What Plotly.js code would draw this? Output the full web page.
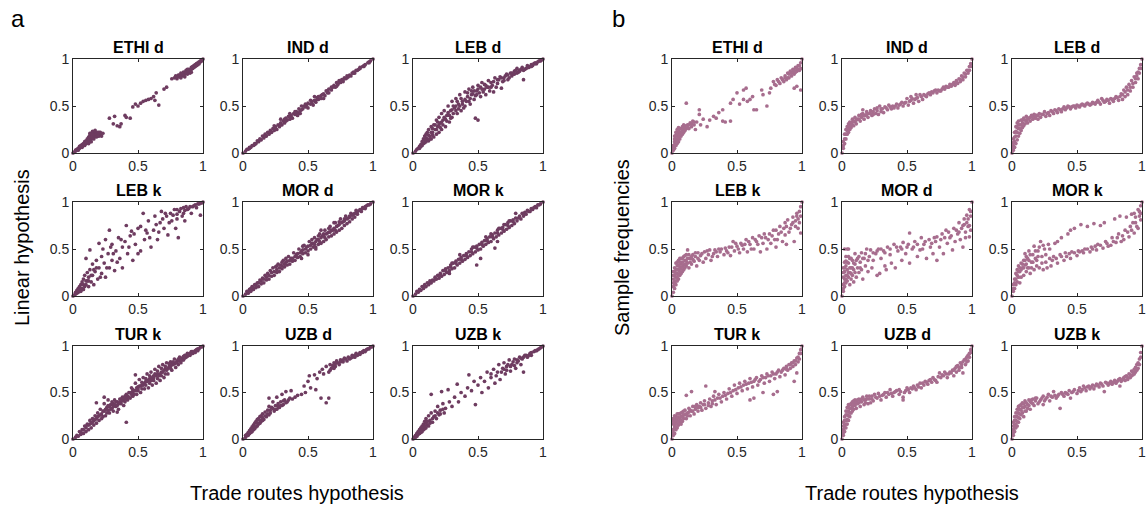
<!DOCTYPE html>
<html><head><meta charset="utf-8">
<script src="https://cdn.plot.ly/plotly-3.0.1.min.js"></script>
<style>html,body{margin:0;padding:0;background:#fff;}#chart{width:1146px;height:506px;}</style>
</head><body><div id="chart"></div>
<script>
const panelTitles = ["ETHI d","IND d","LEB d","LEB k","MOR d","MOR k","TUR k","UZB d","UZB k"];
const panelLetters = ["a","b"];
const xAxisTitle = "Trade routes hypothesis";
const yAxisTitles = ["Linear hypothesis","Sample frequencies"];
const tickValues = [0, 0.5, 1];
const tickLabels = ["0","0.5","1"];

// Panel a: Linear hypothesis vs Trade routes hypothesis, [x, y] pairs
const linEthiD = [[0,0],[0.01,0.01],[0.02,0.02],[0.03,0.03],[0.03,0.04],[0.04,0.05],[0.05,0.05],[0.05,0.07],[0.06,0.06],[0.06,0.08],[0.07,0.07],[0.07,0.09],[0.08,0.08],[0.08,0.10],[0.09,0.09],[0.09,0.12],[0.10,0.10],[0.10,0.13],[0.11,0.11],[0.11,0.15],[0.12,0.12],[0.12,0.17],[0.13,0.14],[0.13,0.19],[0.14,0.15],[0.14,0.21],[0.15,0.16],[0.15,0.23],[0.16,0.17],[0.16,0.20],[0.17,0.18],[0.17,0.22],[0.18,0.19],[0.18,0.21],[0.19,0.20],[0.20,0.18],[0.20,0.22],[0.21,0.20],[0.22,0.18],[0.23,0.21],[0.12,0.10],[0.14,0.12],[0.28,0.37],[0.31,0.31],[0.32,0.39],[0.34,0.29],[0.36,0.28],[0.37,0.31],[0.40,0.40],[0.41,0.38],[0.44,0.37],[0.46,0.49],[0.48,0.52],[0.50,0.50],[0.52,0.53],[0.54,0.55],[0.56,0.56],[0.58,0.57],[0.60,0.58],[0.62,0.60],[0.63,0.56],[0.64,0.64],[0.66,0.51],[0.70,0.68],[0.72,0.70],[0.76,0.79],[0.78,0.80],[0.79,0.82],[0.80,0.79],[0.81,0.83],[0.82,0.81],[0.83,0.85],[0.84,0.82],[0.85,0.86],[0.86,0.84],[0.87,0.88],[0.88,0.86],[0.89,0.89],[0.90,0.88],[0.91,0.91],[0.92,0.90],[0.93,0.93],[0.94,0.92],[0.95,0.95],[0.96,0.94],[0.97,0.97],[0.98,0.97],[0.99,0.99],[1,1],[0.86,0.81],[0.88,0.84],[0.90,0.85],
  [0.02,0.03],[0.04,0.03],[0.06,0.07],[0.07,0.06],[0.09,0.08],[0.10,0.11],[0.11,0.12],[0.12,0.14],[0.13,0.12],[0.14,0.17],[0.15,0.18],[0.16,0.15],[0.17,0.19],[0.18,0.17],[0.19,0.22],[0.20,0.20],[0.13,0.21],[0.15,0.20],[0.17,0.24],[0.19,0.18],[0.21,0.22],[0.80,0.81],[0.82,0.83],[0.84,0.84],[0.85,0.83],[0.87,0.85],[0.88,0.89],[0.89,0.87],[0.91,0.89],[0.92,0.92],[0.93,0.91],[0.94,0.94],[0.95,0.93],[0.96,0.96],[0.97,0.95],[0.98,0.98],[0.99,0.98],[0.83,0.80],[0.91,0.86]];
const linIndD = [[0,0],[0.02,0.02],[0.03,0.04],[0.04,0.04],[0.05,0.06],[0.06,0.06],[0.07,0.08],[0.08,0.08],[0.09,0.10],[0.10,0.10],[0.11,0.13],[0.12,0.12],[0.13,0.15],[0.14,0.14],[0.15,0.18],[0.16,0.16],[0.17,0.20],[0.18,0.18],[0.19,0.22],[0.20,0.20],[0.21,0.24],[0.22,0.22],[0.23,0.26],[0.24,0.24],[0.25,0.28],[0.26,0.25],[0.27,0.30],[0.28,0.28],[0.29,0.32],[0.30,0.30],[0.31,0.34],[0.32,0.32],[0.33,0.37],[0.34,0.35],[0.35,0.39],[0.36,0.36],[0.37,0.40],[0.38,0.37],[0.39,0.42],[0.40,0.41],[0.41,0.44],[0.42,0.43],[0.43,0.47],[0.44,0.45],[0.45,0.50],[0.46,0.47],[0.47,0.50],[0.48,0.49],[0.50,0.53],[0.50,0.48],[0.52,0.52],[0.53,0.55],[0.54,0.51],[0.55,0.56],[0.56,0.54],[0.57,0.59],[0.58,0.57],[0.60,0.61],[0.60,0.58],[0.62,0.63],[0.63,0.61],[0.64,0.66],[0.65,0.64],[0.66,0.68],[0.68,0.67],[0.68,0.70],[0.70,0.72],[0.71,0.70],[0.72,0.75],[0.73,0.73],[0.74,0.77],[0.75,0.75],[0.76,0.78],[0.77,0.76],[0.78,0.80],[0.80,0.80],[0.80,0.82],[0.82,0.83],[0.83,0.82],[0.84,0.85],[0.85,0.86],[0.86,0.85],[0.87,0.88],[0.88,0.88],[0.90,0.90],[0.90,0.91],[0.92,0.92],[0.93,0.93],[0.94,0.94],[0.96,0.96],[0.97,0.97],[0.98,0.98],[1,1],[0.29,0.36],[0.36,0.42],[0.44,0.42],[0.55,0.60],[0.62,0.58],
  [0.05,0.05],[0.09,0.09],[0.13,0.14],[0.17,0.18],[0.21,0.22],[0.25,0.26],[0.29,0.30],[0.33,0.34],[0.37,0.38],[0.41,0.42],[0.45,0.46],[0.49,0.51],[0.53,0.53],[0.57,0.57],[0.61,0.62],[0.65,0.66],[0.69,0.70],[0.73,0.74],[0.77,0.78],[0.81,0.81],[0.85,0.85],[0.89,0.89],[0.93,0.92],[0.97,0.96],[0.24,0.29],[0.32,0.36],[0.40,0.44],[0.48,0.52],[0.52,0.56],[0.58,0.60],[0.42,0.40],[0.66,0.64],[0.72,0.71],[0.79,0.79]];
const linLebD = [[0,0],[0.02,0.02],[0.03,0.04],[0.04,0.05],[0.05,0.07],[0.05,0.05],[0.06,0.09],[0.07,0.08],[0.07,0.12],[0.08,0.10],[0.08,0.15],[0.09,0.11],[0.09,0.18],[0.10,0.12],[0.10,0.20],[0.11,0.15],[0.11,0.22],[0.12,0.13],[0.12,0.25],[0.13,0.18],[0.14,0.28],[0.14,0.15],[0.15,0.22],[0.16,0.30],[0.16,0.17],[0.17,0.25],[0.18,0.35],[0.18,0.20],[0.19,0.28],[0.20,0.38],[0.20,0.22],[0.21,0.32],[0.22,0.42],[0.22,0.25],[0.23,0.35],[0.24,0.45],[0.25,0.28],[0.26,0.40],[0.27,0.50],[0.28,0.33],[0.29,0.45],[0.30,0.55],[0.30,0.38],[0.32,0.48],[0.33,0.58],[0.34,0.42],[0.35,0.52],[0.36,0.62],[0.37,0.45],[0.38,0.55],[0.40,0.65],[0.40,0.50],[0.42,0.60],[0.43,0.68],[0.44,0.52],[0.45,0.62],[0.46,0.70],[0.47,0.57],[0.48,0.37],[0.49,0.66],[0.50,0.72],[0.50,0.35],[0.52,0.60],[0.53,0.75],[0.55,0.68],[0.56,0.62],[0.58,0.77],[0.60,0.70],[0.62,0.65],[0.63,0.80],[0.65,0.74],[0.67,0.81],[0.68,0.69],[0.70,0.80],[0.72,0.84],[0.73,0.78],[0.75,0.85],[0.76,0.82],[0.78,0.87],[0.80,0.85],[0.80,0.90],[0.82,0.88],[0.84,0.91],[0.85,0.78],[0.86,0.89],[0.88,0.93],[0.89,0.91],[0.91,0.94],[0.92,0.93],[0.94,0.96],[0.95,0.95],[0.97,0.98],[0.98,0.98],[1,1],
  [0.10,0.16],[0.12,0.19],[0.14,0.22],[0.15,0.26],[0.17,0.30],[0.19,0.33],[0.21,0.27],[0.23,0.30],[0.24,0.38],[0.26,0.34],[0.27,0.43],[0.29,0.37],[0.31,0.50],[0.31,0.42],[0.33,0.45],[0.34,0.55],[0.36,0.50],[0.37,0.58],[0.39,0.48],[0.41,0.55],[0.42,0.64],[0.44,0.58],[0.46,0.63],[0.47,0.66],[0.48,0.61],[0.51,0.64],[0.52,0.70],[0.54,0.65],[0.55,0.73],[0.57,0.70],[0.59,0.66],[0.60,0.75],[0.61,0.72],[0.64,0.70],[0.66,0.78],[0.69,0.76],[0.71,0.82],[0.74,0.80],[0.77,0.84],[0.79,0.88],[0.81,0.86],[0.83,0.89],[0.87,0.90],[0.90,0.92],[0.93,0.95],[0.96,0.97],[0.99,0.99],[0.06,0.07],[0.09,0.14],[0.13,0.15],
  [0.15,0.19],[0.18,0.25],[0.20,0.30],[0.22,0.33],[0.25,0.36],[0.28,0.40],[0.30,0.46],[0.33,0.50],[0.35,0.47],[0.38,0.52],[0.40,0.57],[0.43,0.55],[0.45,0.66],[0.49,0.62],[0.50,0.68],[0.53,0.68],[0.56,0.72],[0.58,0.70],[0.62,0.76],[0.65,0.78],[0.68,0.80],[0.70,0.77],[0.73,0.83],[0.76,0.85],[0.78,0.84],[0.82,0.87],[0.85,0.88],[0.88,0.91],[0.91,0.92],[0.94,0.95]];
const linLebK = [[0,0],[0.01,0.01],[0.02,0.02],[0.02,0.04],[0.03,0.03],[0.03,0.06],[0.04,0.04],[0.04,0.08],[0.05,0.05],[0.05,0.10],[0.06,0.05],[0.06,0.12],[0.07,0.08],[0.07,0.15],[0.08,0.07],[0.08,0.18],[0.09,0.10],[0.09,0.22],[0.10,0.12],[0.10,0.40],[0.11,0.16],[0.11,0.25],[0.12,0.10],[0.12,0.20],[0.13,0.49],[0.13,0.28],[0.14,0.15],[0.15,0.22],[0.15,0.34],[0.16,0.12],[0.17,0.26],[0.18,0.38],[0.19,0.18],[0.20,0.30],[0.20,0.56],[0.22,0.24],[0.22,0.42],[0.24,0.35],[0.25,0.20],[0.25,0.60],[0.27,0.45],[0.28,0.70],[0.28,0.30],[0.30,0.38],[0.30,0.55],[0.32,0.27],[0.33,0.48],[0.35,0.62],[0.36,0.40],[0.38,0.52],[0.38,0.30],[0.40,0.58],[0.41,0.75],[0.42,0.45],[0.44,0.64],[0.45,0.69],[0.46,0.38],[0.48,0.55],[0.50,0.72],[0.52,0.74],[0.52,0.48],[0.54,0.88],[0.55,0.60],[0.57,0.67],[0.58,0.80],[0.60,0.52],[0.62,0.70],[0.63,0.85],[0.65,0.60],[0.67,0.78],[0.68,0.90],[0.70,0.72],[0.72,0.85],[0.73,0.65],[0.75,0.88],[0.76,0.80],[0.78,0.92],[0.79,0.72],[0.80,0.87],[0.81,0.62],[0.82,0.90],[0.84,0.85],[0.85,0.94],[0.86,0.80],[0.88,0.92],[0.90,0.95],[0.91,0.88],[0.93,0.96],[0.95,0.94],[0.96,0.98],[0.98,0.86],[0.98,0.99],[1,1],
  [0.02,0.03],[0.04,0.06],[0.06,0.08],[0.08,0.12],[0.10,0.16],[0.12,0.16],[0.14,0.22],[0.16,0.28],[0.18,0.30],[0.21,0.20],[0.23,0.50],[0.26,0.30],[0.29,0.52],[0.31,0.45],[0.34,0.36],[0.37,0.60],[0.43,0.52],[0.47,0.66],[0.50,0.45],[0.56,0.70],[0.59,0.62],[0.64,0.76],[0.66,0.68],[0.69,0.82],[0.71,0.88],[0.74,0.78],[0.77,0.86],[0.80,0.92],[0.83,0.93],[0.86,0.91],[0.87,0.95],[0.89,0.93],[0.92,0.95],[0.94,0.97],[0.97,0.98],[0.99,0.99],[0.85,0.88],[0.80,0.82]];
const linMorD = [[0,0],[0.02,0.02],[0.03,0.05],[0.04,0.03],[0.05,0.07],[0.06,0.05],[0.07,0.10],[0.08,0.07],[0.09,0.12],[0.10,0.09],[0.11,0.14],[0.12,0.10],[0.13,0.17],[0.14,0.13],[0.15,0.19],[0.16,0.14],[0.17,0.22],[0.18,0.17],[0.19,0.24],[0.20,0.18],[0.21,0.27],[0.22,0.21],[0.23,0.30],[0.24,0.22],[0.25,0.31],[0.26,0.25],[0.27,0.34],[0.28,0.26],[0.29,0.33],[0.30,0.29],[0.31,0.38],[0.32,0.31],[0.33,0.36],[0.34,0.33],[0.35,0.42],[0.36,0.34],[0.37,0.40],[0.38,0.37],[0.39,0.46],[0.40,0.38],[0.41,0.44],[0.42,0.41],[0.43,0.50],[0.44,0.42],[0.45,0.48],[0.46,0.45],[0.47,0.54],[0.48,0.46],[0.49,0.52],[0.50,0.48],[0.51,0.58],[0.52,0.50],[0.53,0.56],[0.54,0.52],[0.55,0.62],[0.56,0.52],[0.57,0.60],[0.58,0.55],[0.59,0.66],[0.60,0.56],[0.61,0.64],[0.62,0.58],[0.63,0.70],[0.64,0.60],[0.65,0.67],[0.66,0.63],[0.67,0.74],[0.68,0.64],[0.69,0.70],[0.70,0.66],[0.71,0.78],[0.72,0.68],[0.73,0.75],[0.74,0.70],[0.75,0.82],[0.76,0.72],[0.77,0.79],[0.78,0.75],[0.79,0.85],[0.80,0.77],[0.81,0.83],[0.82,0.79],[0.83,0.88],[0.84,0.82],[0.85,0.87],[0.86,0.84],[0.87,0.91],[0.88,0.87],[0.90,0.92],[0.91,0.90],[0.92,0.94],[0.94,0.93],[0.95,0.96],[0.97,0.97],[0.98,0.98],[1,1],[0.45,0.40],[0.60,0.70],[0.30,0.36],[0.70,0.78],
  [0.04,0.05],[0.08,0.09],[0.12,0.14],[0.16,0.18],[0.20,0.22],[0.24,0.26],[0.28,0.30],[0.32,0.34],[0.36,0.38],[0.40,0.42],[0.44,0.46],[0.48,0.50],[0.52,0.54],[0.56,0.58],[0.60,0.62],[0.64,0.66],[0.68,0.70],[0.72,0.74],[0.76,0.78],[0.80,0.82],[0.84,0.86],[0.88,0.90],[0.92,0.93],[0.96,0.97],[0.26,0.32],[0.33,0.40],[0.46,0.53],[0.53,0.60],[0.58,0.64],[0.62,0.66],[0.66,0.72],[0.74,0.79],[0.78,0.82],[0.82,0.84],[0.50,0.44],[0.56,0.50],
  [0.06,0.08],[0.10,0.12],[0.14,0.16],[0.18,0.20],[0.22,0.25],[0.26,0.28],[0.30,0.32],[0.34,0.37],[0.38,0.40],[0.42,0.45],[0.46,0.49],[0.50,0.53],[0.54,0.56],[0.58,0.60],[0.62,0.64],[0.66,0.68],[0.70,0.72],[0.74,0.76],[0.78,0.80],[0.82,0.85],[0.86,0.88],[0.90,0.91],[0.94,0.95],[0.55,0.55],[0.63,0.62],[0.71,0.70],[0.67,0.68],[0.59,0.58]];
const linMorK = [[0,0],[0.02,0.02],[0.03,0.05],[0.04,0.04],[0.05,0.07],[0.06,0.06],[0.07,0.10],[0.08,0.08],[0.09,0.12],[0.10,0.10],[0.11,0.14],[0.12,0.12],[0.13,0.16],[0.14,0.14],[0.15,0.17],[0.16,0.16],[0.17,0.20],[0.18,0.18],[0.19,0.22],[0.20,0.19],[0.21,0.24],[0.22,0.21],[0.23,0.27],[0.24,0.23],[0.25,0.29],[0.26,0.25],[0.27,0.30],[0.28,0.27],[0.29,0.33],[0.30,0.29],[0.31,0.35],[0.32,0.30],[0.33,0.37],[0.34,0.33],[0.35,0.39],[0.36,0.35],[0.37,0.41],[0.38,0.37],[0.39,0.43],[0.40,0.39],[0.41,0.45],[0.42,0.41],[0.43,0.47],[0.44,0.43],[0.45,0.50],[0.46,0.45],[0.47,0.52],[0.48,0.47],[0.49,0.53],[0.50,0.49],[0.51,0.55],[0.52,0.50],[0.53,0.57],[0.54,0.53],[0.55,0.59],[0.56,0.55],[0.57,0.61],[0.58,0.57],[0.59,0.63],[0.60,0.58],[0.61,0.65],[0.62,0.61],[0.63,0.67],[0.64,0.63],[0.65,0.70],[0.66,0.65],[0.67,0.72],[0.68,0.67],[0.69,0.73],[0.70,0.69],[0.71,0.76],[0.72,0.71],[0.73,0.78],[0.74,0.73],[0.75,0.80],[0.76,0.75],[0.77,0.81],[0.78,0.77],[0.79,0.83],[0.80,0.80],[0.82,0.85],[0.83,0.82],[0.84,0.88],[0.85,0.85],[0.86,0.89],[0.87,0.87],[0.88,0.91],[0.90,0.90],[0.91,0.93],[0.92,0.92],[0.94,0.95],[0.95,0.94],[0.96,0.97],[0.98,0.98],[1,1],[0.49,0.33],[0.52,0.40],[0.63,0.51],[0.65,0.58],[0.36,0.44],[0.56,0.63],[0.79,0.88],[0.28,0.24],
  [0.05,0.06],[0.09,0.10],[0.13,0.14],[0.17,0.18],[0.21,0.22],[0.25,0.27],[0.29,0.31],[0.33,0.35],[0.37,0.39],[0.41,0.43],[0.45,0.47],[0.49,0.51],[0.53,0.55],[0.57,0.59],[0.61,0.63],[0.65,0.67],[0.69,0.71],[0.73,0.75],[0.77,0.79],[0.81,0.83],[0.85,0.87],[0.89,0.90],[0.93,0.94],[0.97,0.97],[0.60,0.66],[0.70,0.76],[0.74,0.80],[0.46,0.52],[0.30,0.35],[0.66,0.72]];
const linTurK = [[0,0],[0.02,0.02],[0.03,0.04],[0.04,0.03],[0.05,0.08],[0.06,0.05],[0.07,0.10],[0.08,0.06],[0.09,0.14],[0.10,0.08],[0.11,0.16],[0.12,0.10],[0.13,0.20],[0.14,0.12],[0.15,0.22],[0.16,0.15],[0.17,0.25],[0.18,0.17],[0.19,0.28],[0.20,0.20],[0.21,0.32],[0.22,0.22],[0.23,0.30],[0.24,0.38],[0.25,0.25],[0.26,0.34],[0.27,0.42],[0.28,0.28],[0.29,0.37],[0.30,0.40],[0.31,0.30],[0.32,0.42],[0.33,0.35],[0.34,0.40],[0.35,0.32],[0.36,0.43],[0.37,0.38],[0.38,0.45],[0.39,0.36],[0.40,0.40],[0.41,0.48],[0.42,0.42],[0.43,0.50],[0.44,0.44],[0.45,0.55],[0.46,0.46],[0.47,0.52],[0.48,0.60],[0.49,0.48],[0.50,0.56],[0.51,0.64],[0.52,0.50],[0.53,0.58],[0.54,0.66],[0.55,0.54],[0.56,0.62],[0.57,0.70],[0.58,0.55],[0.59,0.65],[0.60,0.72],[0.61,0.58],[0.62,0.68],[0.63,0.75],[0.64,0.60],[0.65,0.70],[0.66,0.78],[0.67,0.63],[0.68,0.72],[0.69,0.80],[0.70,0.66],[0.71,0.75],[0.72,0.82],[0.73,0.70],[0.74,0.78],[0.75,0.83],[0.76,0.74],[0.77,0.80],[0.78,0.86],[0.79,0.77],[0.80,0.84],[0.81,0.80],[0.82,0.88],[0.83,0.82],[0.84,0.87],[0.85,0.85],[0.86,0.90],[0.87,0.88],[0.88,0.92],[0.90,0.90],[0.91,0.94],[0.92,0.92],[0.94,0.95],[0.95,0.96],[0.97,0.97],[0.98,0.99],[1,1],[0.24,0.45],[0.18,0.39],[0.48,0.69],[0.41,0.18],[0.34,0.29],
  [0.06,0.07],[0.08,0.10],[0.10,0.12],[0.12,0.15],[0.14,0.17],[0.16,0.20],[0.18,0.22],[0.20,0.25],[0.22,0.27],[0.23,0.24],[0.25,0.32],[0.27,0.31],[0.28,0.35],[0.30,0.33],[0.31,0.38],[0.33,0.40],[0.35,0.38],[0.37,0.43],[0.39,0.42],[0.40,0.46],[0.42,0.46],[0.44,0.50],[0.46,0.51],[0.47,0.48],[0.49,0.55],[0.50,0.52],[0.52,0.57],[0.53,0.54],[0.55,0.60],[0.56,0.58],[0.58,0.63],[0.59,0.60],[0.61,0.66],[0.62,0.63],[0.64,0.68],[0.65,0.65],[0.67,0.70],[0.68,0.68],[0.70,0.74],[0.71,0.70],[0.73,0.76],[0.75,0.78],[0.76,0.80],[0.78,0.81],[0.80,0.82],[0.82,0.84],[0.84,0.85],[0.86,0.87],[0.88,0.89],[0.90,0.92],[0.93,0.93],[0.96,0.97],[0.99,0.99],
  [0.10,0.14],[0.13,0.16],[0.15,0.18],[0.17,0.21],[0.19,0.24],[0.21,0.26],[0.24,0.30],[0.26,0.28],[0.27,0.36],[0.29,0.32],[0.31,0.35],[0.32,0.37],[0.34,0.36],[0.36,0.40],[0.38,0.41],[0.40,0.43],[0.41,0.44],[0.43,0.45],[0.45,0.48],[0.46,0.53],[0.48,0.52],[0.50,0.54],[0.51,0.57],[0.53,0.61],[0.54,0.58],[0.56,0.65],[0.57,0.62],[0.59,0.68],[0.60,0.63],[0.62,0.66],[0.63,0.70],[0.65,0.73],[0.66,0.68],[0.68,0.76],[0.69,0.72],[0.71,0.78],[0.72,0.74],[0.74,0.81],[0.75,0.76],[0.77,0.83],[0.79,0.82],[0.81,0.86],[0.83,0.85],[0.85,0.89],[0.87,0.90],[0.89,0.91],[0.92,0.94],[0.94,0.93],[0.96,0.95]];
const linUzbD = [[0,0],[0.02,0.02],[0.02,0.04],[0.03,0.05],[0.04,0.04],[0.04,0.07],[0.05,0.06],[0.05,0.09],[0.06,0.07],[0.06,0.11],[0.07,0.08],[0.07,0.13],[0.08,0.10],[0.08,0.15],[0.09,0.11],[0.09,0.17],[0.10,0.13],[0.10,0.19],[0.11,0.14],[0.11,0.21],[0.12,0.16],[0.12,0.22],[0.13,0.17],[0.13,0.24],[0.14,0.19],[0.14,0.25],[0.15,0.20],[0.15,0.27],[0.16,0.21],[0.17,0.29],[0.18,0.24],[0.19,0.31],[0.20,0.26],[0.20,0.35],[0.21,0.28],[0.22,0.34],[0.23,0.40],[0.24,0.30],[0.25,0.36],[0.26,0.32],[0.27,0.38],[0.28,0.34],[0.29,0.40],[0.30,0.36],[0.31,0.37],[0.32,0.42],[0.33,0.51],[0.34,0.40],[0.36,0.44],[0.37,0.52],[0.38,0.43],[0.40,0.45],[0.42,0.47],[0.45,0.48],[0.47,0.57],[0.48,0.50],[0.50,0.62],[0.51,0.68],[0.52,0.55],[0.55,0.69],[0.56,0.53],[0.57,0.65],[0.59,0.72],[0.60,0.44],[0.61,0.75],[0.62,0.70],[0.64,0.39],[0.64,0.78],[0.66,0.44],[0.66,0.72],[0.67,0.80],[0.68,0.76],[0.70,0.82],[0.71,0.78],[0.72,0.84],[0.74,0.80],[0.75,0.85],[0.77,0.83],[0.78,0.87],[0.80,0.84],[0.81,0.88],[0.83,0.87],[0.84,0.90],[0.86,0.88],[0.87,0.92],[0.89,0.91],[0.90,0.93],[0.92,0.93],[0.93,0.95],[0.95,0.96],[0.97,0.97],[0.98,0.99],[1,1],[0.20,0.44],[0.26,0.45],[0.30,0.48],
  [0.03,0.04],[0.05,0.07],[0.07,0.10],[0.09,0.13],[0.11,0.17],[0.13,0.20],[0.15,0.23],[0.17,0.25],[0.19,0.27],[0.21,0.31],[0.23,0.33],[0.25,0.32],[0.27,0.35],[0.29,0.36],[0.31,0.41],[0.33,0.39],[0.35,0.42],[0.69,0.79],[0.71,0.81],[0.73,0.82],[0.75,0.83],[0.77,0.85],[0.79,0.86],[0.82,0.86],[0.84,0.88],[0.86,0.90],[0.88,0.90],[0.90,0.91],[0.92,0.94],[0.94,0.94],[0.96,0.97],[0.99,0.99],[0.67,0.74],[0.70,0.76]];
const linUzbK = [[0,0],[0.01,0.02],[0.02,0.02],[0.02,0.04],[0.03,0.03],[0.03,0.06],[0.04,0.05],[0.04,0.08],[0.05,0.06],[0.05,0.10],[0.06,0.07],[0.06,0.12],[0.07,0.08],[0.07,0.14],[0.08,0.10],[0.08,0.16],[0.09,0.11],[0.09,0.19],[0.10,0.12],[0.10,0.22],[0.11,0.15],[0.12,0.25],[0.12,0.14],[0.13,0.20],[0.14,0.28],[0.14,0.48],[0.15,0.18],[0.16,0.24],[0.17,0.30],[0.18,0.22],[0.19,0.35],[0.20,0.26],[0.21,0.31],[0.22,0.51],[0.23,0.38],[0.24,0.28],[0.25,0.33],[0.27,0.53],[0.28,0.40],[0.30,0.35],[0.32,0.45],[0.34,0.59],[0.35,0.40],[0.37,0.50],[0.40,0.46],[0.42,0.55],[0.43,0.69],[0.45,0.52],[0.47,0.62],[0.48,0.37],[0.50,0.58],[0.52,0.66],[0.53,0.50],[0.55,0.62],[0.57,0.72],[0.58,0.55],[0.60,0.66],[0.62,0.75],[0.63,0.60],[0.65,0.72],[0.66,0.80],[0.67,0.64],[0.69,0.76],[0.70,0.82],[0.71,0.70],[0.72,0.78],[0.74,0.85],[0.75,0.73],[0.76,0.80],[0.78,0.86],[0.79,0.76],[0.80,0.82],[0.82,0.88],[0.83,0.80],[0.84,0.86],[0.85,0.72],[0.86,0.90],[0.88,0.88],[0.90,0.92],[0.91,0.90],[0.93,0.94],[0.95,0.95],[0.97,0.97],[0.98,0.98],[1,1],
  [0.02,0.03],[0.03,0.05],[0.04,0.06],[0.05,0.08],[0.06,0.09],[0.07,0.11],[0.08,0.13],[0.09,0.14],[0.10,0.17],[0.11,0.19],[0.13,0.17],[0.15,0.22],[0.17,0.25],[0.19,0.28],[0.21,0.27],[0.23,0.32],[0.68,0.72],[0.70,0.75],[0.72,0.74],[0.73,0.80],[0.75,0.78],[0.77,0.83],[0.78,0.79],[0.80,0.85],[0.81,0.84],[0.83,0.87],[0.85,0.88],[0.87,0.90],[0.89,0.90],[0.91,0.93],[0.94,0.95],[0.96,0.96],[0.99,0.99],[0.60,0.70],[0.64,0.68]];

// Panel b: Sample frequencies vs Trade routes hypothesis, [x, y] pairs
const sampEthiD = [[0,0],[0.01,0.03],[0.01,0.08],[0.02,0.05],[0.02,0.12],[0.02,0.18],[0.03,0.08],[0.03,0.15],[0.03,0.22],[0.04,0.10],[0.04,0.18],[0.04,0.25],[0.05,0.12],[0.05,0.20],[0.05,0.27],[0.06,0.15],[0.06,0.22],[0.07,0.18],[0.07,0.26],[0.08,0.20],[0.08,0.28],[0.09,0.22],[0.09,0.30],[0.10,0.24],[0.10,0.29],[0.11,0.26],[0.11,0.53],[0.12,0.30],[0.13,0.26],[0.14,0.32],[0.15,0.28],[0.16,0.34],[0.17,0.30],[0.18,0.25],[0.19,0.33],[0.21,0.46],[0.21,0.41],[0.22,0.30],[0.24,0.36],[0.27,0.28],[0.29,0.35],[0.32,0.39],[0.34,0.37],[0.36,0.43],[0.39,0.46],[0.39,0.34],[0.41,0.33],[0.45,0.53],[0.45,0.34],[0.47,0.57],[0.50,0.64],[0.52,0.52],[0.55,0.67],[0.55,0.57],[0.57,0.69],[0.58,0.55],[0.60,0.57],[0.62,0.60],[0.63,0.46],[0.65,0.46],[0.69,0.67],[0.70,0.62],[0.73,0.50],[0.75,0.64],[0.76,0.69],[0.78,0.76],[0.80,0.72],[0.81,0.78],[0.83,0.74],[0.84,0.80],[0.86,0.76],[0.87,0.82],[0.88,0.78],[0.89,0.85],[0.90,0.80],[0.91,0.87],[0.92,0.82],[0.93,0.89],[0.94,0.69],[0.94,0.84],[0.95,0.91],[0.96,0.71],[0.96,0.87],[0.97,0.93],[0.98,0.88],[0.99,0.67],[0.99,0.96],[1,1],
  [0.01,0.05],[0.02,0.09],[0.02,0.15],[0.03,0.11],[0.03,0.19],[0.04,0.14],[0.04,0.22],[0.05,0.16],[0.05,0.24],[0.06,0.19],[0.06,0.26],[0.07,0.22],[0.08,0.24],[0.09,0.26],[0.10,0.27],[0.12,0.27],[0.13,0.30],[0.15,0.31],[0.17,0.33],[0.85,0.78],[0.87,0.80],[0.89,0.80],[0.90,0.84],[0.92,0.85],[0.93,0.86],[0.94,0.88],[0.95,0.86],[0.96,0.90],[0.97,0.89],[0.98,0.93],[0.99,0.90],[0.82,0.76],[0.79,0.73]];
const sampIndD = [[0,0],[0.01,0.05],[0.01,0.12],[0.02,0.10],[0.02,0.20],[0.03,0.15],[0.03,0.25],[0.04,0.20],[0.04,0.28],[0.05,0.22],[0.05,0.31],[0.06,0.25],[0.06,0.33],[0.07,0.27],[0.08,0.30],[0.08,0.36],[0.09,0.29],[0.10,0.33],[0.10,0.38],[0.11,0.31],[0.12,0.36],[0.13,0.40],[0.14,0.34],[0.15,0.38],[0.16,0.42],[0.17,0.36],[0.18,0.40],[0.19,0.44],[0.20,0.38],[0.21,0.42],[0.22,0.45],[0.23,0.40],[0.24,0.44],[0.25,0.47],[0.26,0.42],[0.27,0.45],[0.28,0.41],[0.29,0.50],[0.30,0.44],[0.31,0.47],[0.32,0.43],[0.33,0.49],[0.35,0.46],[0.36,0.51],[0.38,0.47],[0.39,0.50],[0.40,0.48],[0.42,0.52],[0.43,0.48],[0.44,0.51],[0.46,0.54],[0.47,0.50],[0.48,0.53],[0.50,0.58],[0.51,0.51],[0.52,0.55],[0.54,0.58],[0.55,0.53],[0.56,0.57],[0.58,0.59],[0.59,0.55],[0.60,0.62],[0.62,0.57],[0.63,0.62],[0.65,0.60],[0.66,0.63],[0.68,0.62],[0.69,0.65],[0.70,0.64],[0.72,0.67],[0.73,0.64],[0.74,0.67],[0.76,0.66],[0.78,0.70],[0.79,0.68],[0.80,0.71],[0.82,0.70],[0.83,0.73],[0.84,0.71],[0.86,0.75],[0.87,0.72],[0.88,0.77],[0.89,0.74],[0.90,0.79],[0.91,0.76],[0.92,0.82],[0.93,0.78],[0.94,0.85],[0.95,0.81],[0.96,0.88],[0.97,0.85],[0.98,0.92],[0.99,0.95],[1,1],[0.16,0.46],[0.57,0.62],[0.53,0.60],
  [0.01,0.08],[0.02,0.15],[0.03,0.20],[0.04,0.24],[0.05,0.27],[0.06,0.29],[0.07,0.31],[0.08,0.33],[0.09,0.34],[0.11,0.35],[0.13,0.36],[0.15,0.41],[0.17,0.40],[0.19,0.41],[0.22,0.42],[0.24,0.41],[0.27,0.48],[0.30,0.47],[0.34,0.48],[0.37,0.49],[0.41,0.50],[0.45,0.52],[0.49,0.54],[0.53,0.56],[0.57,0.58],[0.61,0.60],[0.64,0.61],[0.67,0.64],[0.71,0.66],[0.75,0.66],[0.77,0.68],[0.81,0.70],[0.85,0.73],[0.88,0.75],[0.91,0.78],[0.93,0.81],[0.95,0.84],[0.97,0.88],[0.98,0.88],[0.99,0.92]];
const sampLebD = [[0,0],[0.01,0.03],[0.01,0.08],[0.01,0.15],[0.02,0.06],[0.02,0.12],[0.02,0.22],[0.03,0.10],[0.03,0.18],[0.03,0.28],[0.04,0.14],[0.04,0.22],[0.04,0.32],[0.05,0.18],[0.05,0.26],[0.05,0.34],[0.06,0.21],[0.06,0.30],[0.07,0.24],[0.07,0.35],[0.08,0.27],[0.08,0.32],[0.09,0.29],[0.09,0.37],[0.10,0.31],[0.11,0.34],[0.11,0.39],[0.12,0.32],[0.13,0.37],[0.14,0.34],[0.15,0.40],[0.16,0.36],[0.17,0.41],[0.18,0.37],[0.19,0.40],[0.20,0.36],[0.21,0.42],[0.22,0.38],[0.24,0.41],[0.25,0.44],[0.26,0.39],[0.28,0.43],[0.29,0.40],[0.30,0.45],[0.32,0.42],[0.33,0.46],[0.35,0.43],[0.36,0.47],[0.38,0.44],[0.40,0.49],[0.41,0.46],[0.43,0.50],[0.45,0.47],[0.47,0.50],[0.49,0.48],[0.50,0.51],[0.52,0.49],[0.54,0.52],[0.56,0.50],[0.58,0.53],[0.60,0.51],[0.62,0.54],[0.64,0.52],[0.66,0.56],[0.68,0.52],[0.69,0.58],[0.71,0.54],[0.73,0.57],[0.75,0.53],[0.76,0.58],[0.78,0.55],[0.80,0.60],[0.82,0.56],[0.84,0.63],[0.85,0.57],[0.86,0.67],[0.87,0.60],[0.88,0.70],[0.89,0.62],[0.90,0.73],[0.91,0.66],[0.92,0.77],[0.93,0.70],[0.94,0.81],[0.95,0.75],[0.96,0.85],[0.97,0.79],[0.98,0.90],[0.99,0.94],[1,1],
  [0.01,0.05],[0.01,0.11],[0.02,0.17],[0.03,0.23],[0.04,0.27],[0.05,0.30],[0.06,0.26],[0.07,0.30],[0.08,0.35],[0.10,0.35],[0.12,0.36],[0.14,0.38],[0.16,0.39],[0.18,0.40],[0.20,0.40],[0.23,0.41],[0.27,0.42],[0.31,0.44],[0.34,0.45],[0.37,0.46],[0.39,0.47],[0.42,0.48],[0.44,0.49],[0.46,0.49],[0.48,0.50],[0.51,0.50],[0.53,0.51],[0.55,0.51],[0.57,0.52],[0.59,0.52],[0.61,0.52],[0.63,0.53],[0.65,0.54],[0.67,0.54],[0.70,0.56],[0.72,0.55],[0.74,0.56],[0.77,0.57],[0.79,0.58],[0.81,0.59],[0.83,0.60],[0.85,0.62],[0.87,0.65],[0.89,0.67],[0.91,0.70],[0.93,0.74],[0.95,0.79],[0.96,0.82],[0.97,0.86],[0.98,0.85],[0.99,0.90]];
const sampLebK = [[0,0],[0.01,0.04],[0.01,0.10],[0.01,0.18],[0.01,0.26],[0.02,0.08],[0.02,0.15],[0.02,0.22],[0.02,0.30],[0.03,0.12],[0.03,0.20],[0.03,0.28],[0.03,0.35],[0.04,0.16],[0.04,0.24],[0.04,0.32],[0.05,0.18],[0.05,0.28],[0.05,0.38],[0.06,0.22],[0.06,0.31],[0.06,0.40],[0.07,0.24],[0.07,0.34],[0.08,0.26],[0.08,0.36],[0.09,0.28],[0.09,0.42],[0.10,0.30],[0.10,0.38],[0.11,0.32],[0.11,0.44],[0.12,0.35],[0.12,0.49],[0.13,0.30],[0.14,0.40],[0.15,0.34],[0.16,0.44],[0.17,0.37],[0.18,0.42],[0.19,0.32],[0.20,0.46],[0.21,0.38],[0.22,0.43],[0.24,0.36],[0.25,0.47],[0.26,0.40],[0.28,0.44],[0.29,0.49],[0.30,0.38],[0.32,0.45],[0.33,0.49],[0.35,0.42],[0.37,0.47],[0.38,0.50],[0.40,0.44],[0.42,0.48],[0.44,0.52],[0.45,0.43],[0.47,0.58],[0.48,0.48],[0.50,0.53],[0.52,0.46],[0.53,0.56],[0.55,0.50],[0.57,0.60],[0.58,0.47],[0.60,0.55],[0.62,0.62],[0.63,0.50],[0.65,0.58],[0.67,0.64],[0.68,0.47],[0.70,0.56],[0.72,0.62],[0.73,0.50],[0.75,0.66],[0.76,0.56],[0.78,0.70],[0.79,0.60],[0.80,0.52],[0.82,0.66],[0.83,0.74],[0.85,0.58],[0.86,0.72],[0.87,0.78],[0.88,0.55],[0.89,0.81],[0.90,0.68],[0.92,0.76],[0.93,0.84],[0.94,0.58],[0.95,0.80],[0.96,0.85],[0.97,0.72],[0.98,0.90],[0.99,0.67],[0.99,0.95],[1,1],
  [0.01,0.14],[0.01,0.22],[0.02,0.12],[0.02,0.26],[0.03,0.16],[0.03,0.24],[0.04,0.20],[0.04,0.28],[0.04,0.36],[0.05,0.23],[0.05,0.33],[0.06,0.26],[0.06,0.36],[0.07,0.29],[0.07,0.40],[0.08,0.31],[0.08,0.40],[0.09,0.33],[0.10,0.34],[0.10,0.43],[0.11,0.37],[0.12,0.40],[0.13,0.44],[0.14,0.36],[0.15,0.42],[0.16,0.39],[0.18,0.46],[0.20,0.40],[0.23,0.45],[0.27,0.48],[0.31,0.42],[0.34,0.47],[0.36,0.50],[0.41,0.51],[0.43,0.46],[0.46,0.52],[0.49,0.56],[0.51,0.50],[0.54,0.54],[0.56,0.55],[0.59,0.58],[0.61,0.50],[0.64,0.60],[0.66,0.55],[0.69,0.62],[0.71,0.66],[0.74,0.60],[0.77,0.64],[0.80,0.70],[0.81,0.60],[0.84,0.68],[0.87,0.65],[0.88,0.74],[0.91,0.72],[0.93,0.78],[0.95,0.74],[0.96,0.88],[0.97,0.82],[0.98,0.78],[0.99,0.85]];
const sampMorD = [[0,0],[0.01,0.05],[0.01,0.12],[0.01,0.20],[0.01,0.30],[0.02,0.10],[0.02,0.18],[0.02,0.26],[0.02,0.36],[0.02,0.50],[0.03,0.14],[0.03,0.22],[0.03,0.32],[0.03,0.42],[0.04,0.50],[0.04,0.16],[0.04,0.28],[0.05,0.20],[0.05,0.35],[0.05,0.50],[0.06,0.12],[0.06,0.25],[0.06,0.40],[0.07,0.18],[0.07,0.30],[0.08,0.22],[0.08,0.38],[0.09,0.15],[0.09,0.28],[0.10,0.34],[0.10,0.45],[0.11,0.20],[0.12,0.30],[0.12,0.40],[0.13,0.25],[0.14,0.36],[0.15,0.46],[0.15,0.28],[0.16,0.18],[0.17,0.40],[0.18,0.32],[0.19,0.50],[0.20,0.26],[0.21,0.42],[0.22,0.49],[0.23,0.30],[0.24,0.38],[0.26,0.45],[0.27,0.22],[0.28,0.50],[0.29,0.24],[0.30,0.40],[0.32,0.48],[0.33,0.32],[0.34,0.28],[0.35,0.52],[0.37,0.44],[0.38,0.35],[0.40,0.55],[0.41,0.30],[0.43,0.48],[0.45,0.52],[0.46,0.38],[0.47,0.57],[0.49,0.45],[0.50,0.52],[0.52,0.67],[0.52,0.35],[0.54,0.50],[0.56,0.58],[0.58,0.42],[0.60,0.49],[0.61,0.62],[0.63,0.55],[0.65,0.40],[0.67,0.60],[0.68,0.52],[0.70,0.45],[0.72,0.58],[0.73,0.63],[0.73,0.38],[0.75,0.52],[0.77,0.66],[0.78,0.45],[0.80,0.70],[0.81,0.56],[0.83,0.62],[0.85,0.49],[0.86,0.72],[0.87,0.58],[0.89,0.66],[0.90,0.78],[0.91,0.60],[0.93,0.52],[0.93,0.75],[0.94,0.82],[0.95,0.68],[0.96,0.86],[0.97,0.74],[0.98,0.63],[0.98,0.92],[0.99,0.85],[1,1],
  [0.01,0.08],[0.01,0.25],[0.02,0.14],[0.02,0.30],[0.03,0.18],[0.03,0.37],[0.04,0.22],[0.04,0.36],[0.05,0.25],[0.05,0.42],[0.06,0.30],[0.07,0.24],[0.07,0.40],[0.08,0.30],[0.09,0.35],[0.10,0.25],[0.11,0.38],[0.13,0.42],[0.14,0.30],[0.16,0.40],[0.18,0.45],[0.20,0.38],[0.24,0.46],[0.27,0.48],[0.30,0.50],[0.33,0.46],[0.37,0.50],[0.42,0.52],[0.46,0.50],[0.51,0.55],[0.55,0.52],[0.58,0.55],[0.62,0.50],[0.64,0.58],[0.69,0.56],[0.71,0.62],[0.76,0.60],[0.79,0.62],[0.82,0.68],[0.84,0.64],[0.88,0.70],[0.90,0.68],[0.92,0.72],[0.94,0.76],[0.95,0.62],[0.96,0.78],[0.97,0.82],[0.98,0.75],[0.99,0.90],[0.99,0.70]];
const sampMorK = [[0,0],[0.01,0.05],[0.01,0.12],[0.02,0.08],[0.02,0.18],[0.03,0.12],[0.03,0.24],[0.04,0.15],[0.04,0.28],[0.05,0.20],[0.05,0.32],[0.06,0.14],[0.06,0.26],[0.07,0.35],[0.07,0.20],[0.08,0.30],[0.09,0.38],[0.09,0.22],[0.10,0.33],[0.10,0.45],[0.11,0.26],[0.12,0.40],[0.13,0.30],[0.13,0.48],[0.14,0.24],[0.15,0.36],[0.16,0.44],[0.17,0.53],[0.17,0.28],[0.18,0.40],[0.19,0.38],[0.20,0.48],[0.21,0.30],[0.22,0.58],[0.23,0.42],[0.24,0.28],[0.25,0.50],[0.26,0.36],[0.28,0.55],[0.29,0.40],[0.30,0.32],[0.32,0.42],[0.33,0.56],[0.35,0.35],[0.35,0.58],[0.37,0.44],[0.38,0.62],[0.40,0.38],[0.41,0.46],[0.43,0.66],[0.45,0.40],[0.45,0.70],[0.46,0.47],[0.48,0.72],[0.50,0.43],[0.51,0.48],[0.53,0.76],[0.55,0.46],[0.56,0.50],[0.58,0.74],[0.60,0.47],[0.61,0.52],[0.63,0.77],[0.65,0.49],[0.66,0.55],[0.68,0.75],[0.70,0.51],[0.71,0.78],[0.72,0.58],[0.74,0.53],[0.76,0.54],[0.77,0.62],[0.79,0.82],[0.80,0.57],[0.82,0.66],[0.83,0.85],[0.84,0.58],[0.86,0.60],[0.87,0.70],[0.88,0.84],[0.90,0.63],[0.91,0.74],[0.92,0.87],[0.94,0.67],[0.94,0.88],[0.95,0.78],[0.97,0.72],[0.97,0.92],[0.98,0.85],[0.99,0.81],[0.99,0.96],[1,1],
  [0.01,0.08],[0.02,0.14],[0.03,0.18],[0.04,0.22],[0.05,0.26],[0.06,0.30],[0.07,0.28],[0.08,0.34],[0.09,0.30],[0.10,0.38],[0.11,0.34],[0.11,0.42],[0.12,0.30],[0.13,0.38],[0.14,0.44],[0.15,0.30],[0.16,0.36],[0.18,0.48],[0.19,0.32],[0.20,0.42],[0.21,0.52],[0.23,0.35],[0.24,0.54],[0.26,0.44],[0.27,0.30],[0.29,0.50],[0.31,0.38],[0.34,0.40],[0.38,0.42],[0.42,0.42],[0.44,0.45],[0.48,0.46],[0.52,0.47],[0.54,0.48],[0.58,0.50],[0.62,0.50],[0.64,0.53],[0.68,0.54],[0.73,0.56],[0.78,0.58],[0.81,0.62],[0.85,0.64],[0.89,0.68],[0.92,0.70],[0.93,0.78],[0.95,0.84],[0.96,0.74],[0.98,0.90],[0.99,0.88]];
const sampTurK = [[0,0],[0.01,0.04],[0.01,0.10],[0.01,0.16],[0.01,0.22],[0.02,0.06],[0.02,0.13],[0.02,0.20],[0.02,0.25],[0.03,0.10],[0.03,0.17],[0.03,0.24],[0.04,0.12],[0.04,0.20],[0.04,0.27],[0.05,0.15],[0.05,0.23],[0.06,0.18],[0.06,0.27],[0.07,0.16],[0.07,0.24],[0.08,0.19],[0.08,0.29],[0.09,0.22],[0.10,0.26],[0.10,0.31],[0.11,0.47],[0.11,0.22],[0.12,0.28],[0.13,0.33],[0.14,0.25],[0.15,0.51],[0.15,0.30],[0.16,0.35],[0.17,0.27],[0.18,0.32],[0.19,0.37],[0.20,0.30],[0.21,0.35],[0.22,0.39],[0.23,0.31],[0.24,0.37],[0.25,0.41],[0.26,0.57],[0.26,0.33],[0.28,0.39],[0.29,0.43],[0.30,0.35],[0.31,0.41],[0.32,0.46],[0.33,0.51],[0.34,0.37],[0.35,0.44],[0.36,0.48],[0.38,0.40],[0.39,0.46],[0.40,0.50],[0.42,0.43],[0.43,0.49],[0.44,0.54],[0.46,0.46],[0.47,0.52],[0.48,0.58],[0.50,0.49],[0.51,0.55],[0.52,0.60],[0.54,0.52],[0.55,0.58],[0.56,0.62],[0.58,0.54],[0.59,0.60],[0.60,0.42],[0.60,0.65],[0.62,0.56],[0.63,0.44],[0.63,0.62],[0.65,0.66],[0.66,0.58],[0.68,0.64],[0.69,0.68],[0.70,0.50],[0.71,0.60],[0.72,0.66],[0.73,0.70],[0.75,0.62],[0.76,0.68],[0.77,0.72],[0.78,0.48],[0.79,0.65],[0.80,0.70],[0.81,0.51],[0.82,0.74],[0.83,0.67],[0.84,0.72],[0.86,0.76],[0.87,0.69],[0.88,0.78],[0.89,0.74],[0.90,0.80],[0.91,0.76],[0.92,0.82],[0.93,0.78],[0.94,0.62],[0.94,0.84],[0.95,0.80],[0.96,0.71],[0.96,0.87],[0.97,0.83],[0.98,0.92],[0.99,0.96],[1,1],
  [0.01,0.07],[0.01,0.19],[0.02,0.16],[0.02,0.22],[0.03,0.20],[0.03,0.13],[0.04,0.16],[0.04,0.23],[0.05,0.19],[0.05,0.27],[0.06,0.22],[0.07,0.20],[0.07,0.28],[0.08,0.24],[0.09,0.26],[0.09,0.30],[0.11,0.27],[0.12,0.25],[0.13,0.29],[0.14,0.31],[0.16,0.30],[0.18,0.35],[0.20,0.34],[0.22,0.34],[0.25,0.37],[0.28,0.36],[0.31,0.38],[0.33,0.42],[0.37,0.44],[0.41,0.47],[0.45,0.50],[0.49,0.53],[0.53,0.56],[0.57,0.59],[0.61,0.61],[0.64,0.64],[0.67,0.62],[0.70,0.66],[0.74,0.68],[0.78,0.70],[0.81,0.72],[0.85,0.74],[0.88,0.75],[0.91,0.80],[0.93,0.82],[0.95,0.84],[0.97,0.88],[0.98,0.86],[0.99,0.92]];
const sampUzbD = [[0,0],[0.01,0.04],[0.01,0.10],[0.01,0.18],[0.02,0.08],[0.02,0.15],[0.02,0.24],[0.03,0.12],[0.03,0.20],[0.03,0.30],[0.04,0.16],[0.04,0.26],[0.04,0.34],[0.05,0.20],[0.05,0.30],[0.05,0.37],[0.06,0.24],[0.06,0.33],[0.07,0.28],[0.07,0.38],[0.08,0.30],[0.08,0.40],[0.09,0.32],[0.10,0.36],[0.10,0.42],[0.11,0.33],[0.12,0.38],[0.13,0.43],[0.14,0.35],[0.15,0.40],[0.16,0.45],[0.17,0.37],[0.18,0.42],[0.19,0.46],[0.20,0.38],[0.21,0.43],[0.22,0.39],[0.23,0.46],[0.24,0.41],[0.25,0.48],[0.27,0.44],[0.28,0.49],[0.30,0.42],[0.31,0.47],[0.33,0.50],[0.34,0.45],[0.36,0.48],[0.37,0.53],[0.39,0.46],[0.40,0.50],[0.42,0.52],[0.44,0.48],[0.45,0.51],[0.47,0.45],[0.47,0.42],[0.49,0.52],[0.50,0.55],[0.52,0.50],[0.54,0.54],[0.55,0.57],[0.57,0.53],[0.58,0.58],[0.60,0.60],[0.61,0.55],[0.63,0.58],[0.64,0.62],[0.66,0.59],[0.67,0.63],[0.69,0.61],[0.70,0.66],[0.72,0.63],[0.73,0.61],[0.75,0.71],[0.76,0.66],[0.78,0.68],[0.80,0.70],[0.81,0.66],[0.83,0.72],[0.85,0.74],[0.86,0.68],[0.87,0.76],[0.88,0.72],[0.89,0.79],[0.90,0.74],[0.91,0.82],[0.92,0.77],[0.93,0.71],[0.94,0.85],[0.95,0.80],[0.96,0.88],[0.97,0.84],[0.98,0.92],[0.99,0.96],[1,1],
  [0.01,0.07],[0.01,0.14],[0.02,0.12],[0.02,0.20],[0.03,0.16],[0.03,0.26],[0.04,0.21],[0.04,0.30],[0.05,0.25],[0.05,0.34],[0.06,0.28],[0.06,0.37],[0.07,0.33],[0.08,0.35],[0.09,0.38],[0.09,0.41],[0.10,0.39],[0.11,0.40],[0.12,0.42],[0.13,0.39],[0.14,0.41],[0.15,0.43],[0.17,0.42],[0.18,0.39],[0.19,0.43],[0.21,0.46],[0.23,0.43],[0.26,0.45],[0.29,0.46],[0.32,0.48],[0.35,0.50],[0.38,0.49],[0.41,0.51],[0.44,0.53],[0.48,0.50],[0.51,0.53],[0.53,0.55],[0.56,0.55],[0.59,0.56],[0.62,0.60],[0.65,0.61],[0.68,0.64],[0.71,0.64],[0.74,0.67],[0.77,0.69],[0.79,0.72],[0.82,0.70],[0.84,0.71],[0.86,0.74],[0.88,0.78],[0.90,0.77],[0.92,0.80],[0.93,0.83],[0.95,0.86],[0.96,0.83],[0.97,0.90],[0.98,0.88],[0.99,0.93]];
const sampUzbK = [[0,0],[0.01,0.04],[0.01,0.10],[0.01,0.18],[0.02,0.08],[0.02,0.15],[0.02,0.24],[0.03,0.12],[0.03,0.20],[0.03,0.28],[0.04,0.14],[0.04,0.24],[0.04,0.32],[0.05,0.18],[0.05,0.28],[0.05,0.35],[0.06,0.22],[0.06,0.32],[0.07,0.26],[0.07,0.37],[0.08,0.28],[0.08,0.39],[0.09,0.24],[0.09,0.34],[0.10,0.41],[0.11,0.30],[0.12,0.37],[0.13,0.42],[0.14,0.32],[0.15,0.39],[0.16,0.43],[0.17,0.36],[0.18,0.41],[0.19,0.44],[0.20,0.38],[0.22,0.42],[0.24,0.37],[0.24,0.46],[0.26,0.43],[0.28,0.48],[0.29,0.41],[0.31,0.45],[0.32,0.51],[0.34,0.44],[0.36,0.48],[0.37,0.33],[0.38,0.50],[0.40,0.46],[0.42,0.49],[0.44,0.52],[0.45,0.44],[0.46,0.50],[0.48,0.53],[0.50,0.49],[0.52,0.55],[0.53,0.51],[0.55,0.57],[0.57,0.52],[0.58,0.56],[0.60,0.54],[0.62,0.58],[0.63,0.54],[0.65,0.59],[0.67,0.56],[0.68,0.60],[0.70,0.57],[0.71,0.51],[0.72,0.61],[0.74,0.58],[0.76,0.62],[0.77,0.59],[0.79,0.63],[0.80,0.60],[0.82,0.64],[0.83,0.57],[0.84,0.62],[0.86,0.66],[0.87,0.63],[0.88,0.68],[0.89,0.64],[0.90,0.70],[0.91,0.66],[0.92,0.73],[0.93,0.69],[0.94,0.75],[0.95,0.72],[0.96,0.80],[0.97,0.76],[0.98,0.86],[0.99,0.93],[1,1],
  [0.01,0.07],[0.01,0.14],[0.02,0.12],[0.02,0.20],[0.03,0.16],[0.03,0.24],[0.04,0.19],[0.04,0.28],[0.05,0.23],[0.05,0.32],[0.06,0.27],[0.06,0.36],[0.07,0.31],[0.08,0.34],[0.09,0.38],[0.10,0.35],[0.10,0.30],[0.11,0.39],[0.12,0.33],[0.13,0.36],[0.14,0.40],[0.15,0.42],[0.16,0.38],[0.18,0.44],[0.21,0.40],[0.23,0.44],[0.25,0.41],[0.27,0.45],[0.30,0.46],[0.33,0.47],[0.35,0.46],[0.39,0.48],[0.41,0.50],[0.43,0.48],[0.47,0.51],[0.51,0.52],[0.54,0.53],[0.56,0.55],[0.59,0.57],[0.61,0.56],[0.64,0.57],[0.66,0.58],[0.69,0.59],[0.73,0.60],[0.75,0.60],[0.78,0.61],[0.81,0.62],[0.83,0.65],[0.85,0.64],[0.87,0.67],[0.89,0.66],[0.91,0.69],[0.92,0.68],[0.93,0.72],[0.94,0.70],[0.95,0.77],[0.96,0.74],[0.97,0.82],[0.98,0.80],[0.99,0.88]];

const panelData = [
  [linEthiD, linIndD, linLebD, linLebK, linMorD, linMorK, linTurK, linUzbD, linUzbK],
  [sampEthiD, sampIndD, sampLebD, sampLebK, sampMorD, sampMorK, sampTurK, sampUzbD, sampUzbK]
];

// ---- layout geometry (pixels) ----
const W = 1146, H = 506;
const colPx = [[[73,203],[243,373],[413,543]], [[672,802],[842,972],[1012,1142]]];
const rowPx = [[59,153],[202,296],[346,439]];
const markerColors = ["#6e3c60", "#a76d8e"];
const axisColor = "#262626";
const fontFamily = '"Liberation Sans", Arial, Helvetica, sans-serif';

const traces = [];
const layout = {
  width: W, height: H,
  margin: {l:0, r:0, t:0, b:0},
  paper_bgcolor: "#fff", plot_bgcolor: "#fff",
  showlegend: false,
  font: {family: fontFamily, color: axisColor},
  annotations: []
};

for (let p = 0; p < 2; p++) {
  for (let i = 0; i < 9; i++) {
    const n = p * 9 + i + 1;
    const sfx = n === 1 ? "" : String(n);
    const r = Math.floor(i / 3), c = i % 3;
    const [x0, x1] = colPx[p][c];
    const [y0, y1] = rowPx[r];
    const common = {
      range: [0, 1], tickvals: tickValues, ticktext: tickLabels,
      ticks: "inside", ticklen: 3, tickwidth: 1, tickcolor: axisColor,
      mirror: "allticks", showline: true, linecolor: axisColor, linewidth: 1,
      showgrid: false, zeroline: false, fixedrange: true,
      ticklabeloverflow: "allow",
      tickfont: {size: 14, color: axisColor, family: fontFamily}
    };
    layout["xaxis" + sfx] = Object.assign({}, common, {domain: [x0 / W, x1 / W], anchor: "y" + sfx});
    layout["yaxis" + sfx] = Object.assign({}, common, {domain: [1 - y1 / H, 1 - y0 / H], anchor: "x" + sfx});
    const pts = panelData[p][i];
    traces.push({
      type: "scatter", mode: "markers",
      x: pts.map(d => d[0]), y: pts.map(d => d[1]),
      xaxis: "x" + sfx, yaxis: "y" + sfx,
      marker: {size: 3.7, color: markerColors[p], line: {width: 0}},
      cliponaxis: false, hoverinfo: "skip"
    });
    layout.annotations.push({
      text: "<b>" + panelTitles[i] + "</b>", xref: "paper", yref: "paper",
      x: ((x0 + x1) / 2) / W, y: 1 - (y0 - 12) / H, xanchor: "center", yanchor: "middle",
      showarrow: false, font: {size: 16, color: "#000", family: fontFamily}
    });
  }
  layout.annotations.push({
    text: panelLetters[p], xref: "paper", yref: "paper",
    x: (p === 0 ? 18 : 618) / W, y: 1 - 18 / H, xanchor: "center", yanchor: "middle",
    showarrow: false, font: {size: 24, color: "#000", family: fontFamily}
  });
  layout.annotations.push({
    text: xAxisTitle, xref: "paper", yref: "paper",
    x: (p === 0 ? 297 : 912) / W, y: 1 - 493 / H, xanchor: "center", yanchor: "middle",
    showarrow: false, font: {size: 20, color: "#000", family: fontFamily}
  });
  layout.annotations.push({
    text: yAxisTitles[p], xref: "paper", yref: "paper", textangle: -90,
    x: (p === 0 ? 22 : 622) / W, y: 1 - 248 / H, xanchor: "center", yanchor: "middle",
    showarrow: false, font: {size: 20, color: "#000", family: fontFamily}
  });
}

Plotly.newPlot("chart", traces, layout, {staticPlot: true, displayModeBar: false});
</script>
</body></html>
